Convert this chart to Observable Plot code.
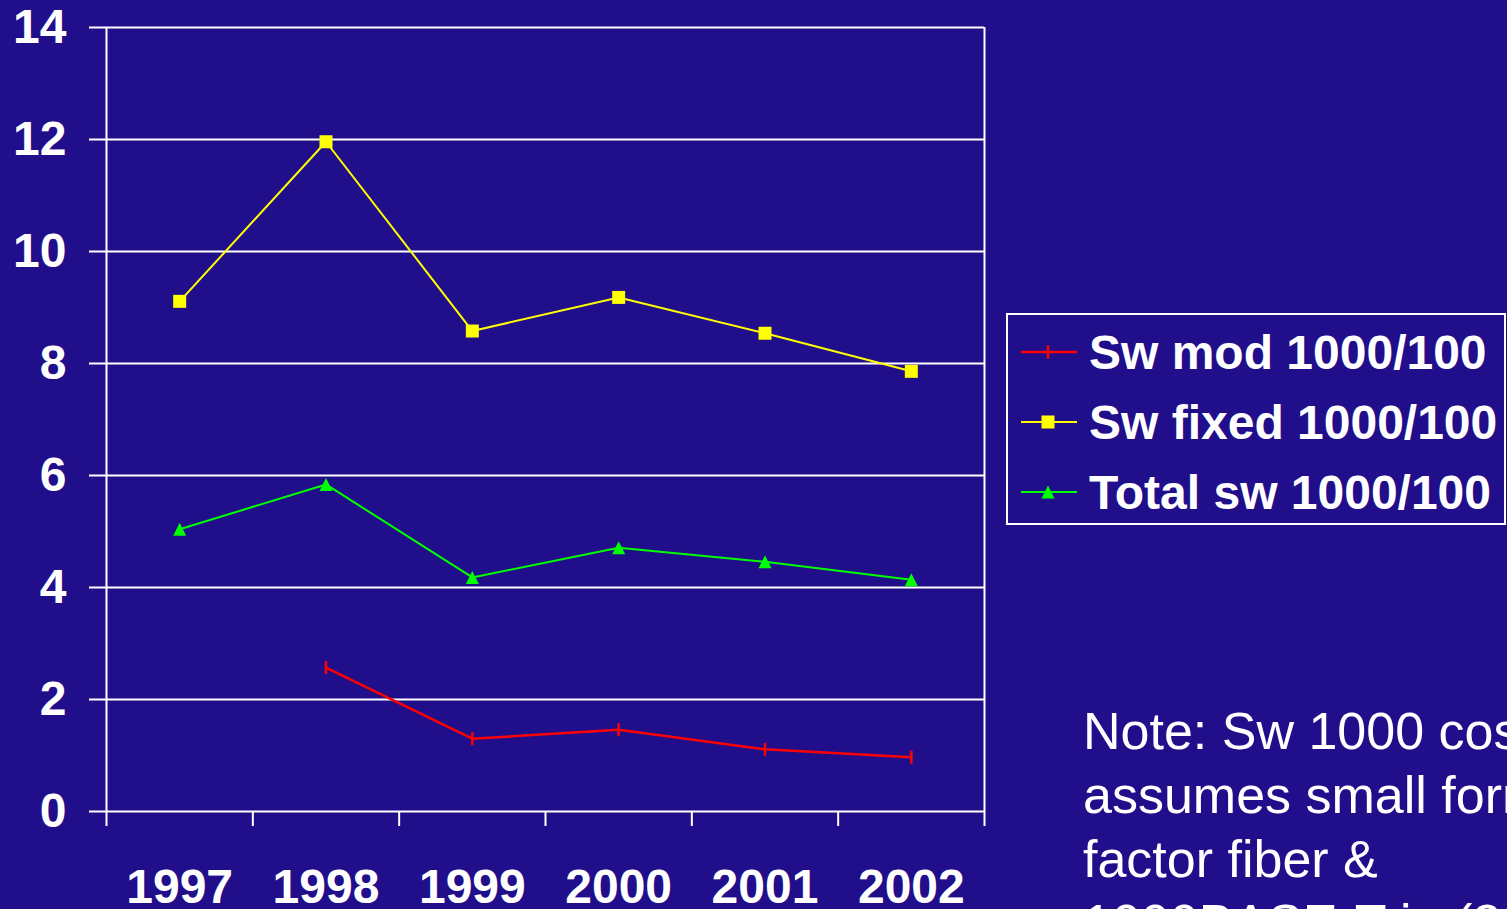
<!DOCTYPE html>
<html>
<head>
<meta charset="utf-8">
<script src="https://cdn.jsdelivr.net/npm/d3@7"></script>
<script src="https://cdn.jsdelivr.net/npm/@observablehq/plot@0.6"></script>
<style>
  html, body { margin: 0; padding: 0; background: #210e8b; overflow: hidden; width: 1507px; height: 909px; }
  #wrap { position: relative; width: 1507px; height: 909px; }
  #overlay { position: absolute; left: 0; top: 0; pointer-events: none; }
</style>
</head>
<body>
<div id="wrap"><div id="chart"></div><svg id="overlay" width="1507" height="909"></svg></div>
<script>
const years = ["1997", "1998", "1999", "2000", "2001", "2002"];
const swMod = [null, 2.57, 1.30, 1.46, 1.11, 0.97];
const swFixed = [9.11, 11.96, 8.58, 9.18, 8.54, 7.86];
const totalSw = [5.04, 5.84, 4.18, 4.71, 4.46, 4.14];
const yTicks = [0, 2, 4, 6, 8, 10, 12, 14];
const seriesNames = ["Sw mod 1000/100", "Sw fixed 1000/100", "Total sw 1000/100"];
const seriesColors = ["#ff0000", "#ffff00", "#00ff00"];
const noteLines = ["Note: Sw 1000 cost", "assumes small form", "factor fiber &", "1000BASE-T in (2002)"];

const FONT = "'Liberation Sans', Arial, Helvetica, sans-serif";

function rows(values, name) {
  return years.map((y, i) => ({year: y, xi: i + 0.5, value: values[i], series: name}))
    .filter(d => d.value != null);
}
const modRows = rows(swMod, seriesNames[0]);
const fixedRows = rows(swFixed, seriesNames[1]);
const totalRows = rows(totalSw, seriesNames[2]);

const vtick = {
  draw(context, size) {
    const r = Math.sqrt(size / Math.PI);
    context.moveTo(0, -r);
    context.lineTo(0, r);
  }
};
const tri = {
  draw(context, size) {
    const r = Math.sqrt(size / Math.PI);
    context.moveTo(0, -r);
    context.lineTo(r, r);
    context.lineTo(-r, r);
    context.closePath();
  }
};
const sq = {
  draw(context, size) {
    const r = Math.sqrt(size / Math.PI);
    context.rect(-r, -r, 2 * r, 2 * r);
  }
};

const chart = Plot.plot({
  width: 1507,
  height: 909,
  marginLeft: 106,
  marginRight: 523,
  marginTop: 27,
  marginBottom: 98,
  style: {background: "transparent", color: "white", fontFamily: FONT, fontSize: "48px", fontWeight: "bold"},
  x: {domain: [0, 6], axis: null},
  y: {domain: [0, 14], axis: null},
  marks: [
    Plot.ruleY(yTicks, {x1: 0, x2: 6, stroke: "white", strokeWidth: 2}),
    Plot.ruleX([0, 6], {y1: 0, y2: 14, stroke: "white", strokeWidth: 2}),
    Plot.axisY({ticks: yTicks, tickSize: 17, tickPadding: 23, strokeWidth: 2, label: null,
      fontSize: 48, fontWeight: "bold", fill: "white"}),
    Plot.axisX({ticks: d3.range(7), tickSize: 15, tickFormat: () => "", strokeWidth: 2, label: null}),
    Plot.axisX({ticks: years.map((d, i) => i + 0.5), tickSize: 0, tickPadding: 57, label: null,
      tickFormat: v => years[Math.round(v - 0.5)], fontSize: 48, fontWeight: "bold", fill: "white"}),
    Plot.line(totalRows, {x: "xi", y: "value", stroke: seriesColors[2], strokeWidth: 2}),
    Plot.line(fixedRows, {x: "xi", y: "value", stroke: seriesColors[1], strokeWidth: 2}),
    Plot.line(modRows, {x: "xi", y: "value", stroke: seriesColors[0], strokeWidth: 2.5}),
    Plot.dot(totalRows, {x: "xi", y: "value", symbol: tri, r: 6.5, fill: seriesColors[2], stroke: "none"}),
    Plot.dot(fixedRows, {x: "xi", y: "value", symbol: sq, r: 6.5, fill: seriesColors[1], stroke: "none"}),
    Plot.dot(modRows, {x: "xi", y: "value", symbol: vtick, r: 6.5, fill: "none", stroke: seriesColors[0], strokeWidth: 2.5})
  ]
});
document.getElementById("chart").appendChild(chart);

// Legend + note overlay
const ov = d3.select("#overlay");
ov.append("rect").attr("x", 1007).attr("y", 314).attr("width", 498).attr("height", 210)
  .attr("fill", "none").attr("stroke", "white").attr("stroke-width", 2);
const rowY = [352, 422, 492];
const symbols = [vtick, sq, tri];
seriesNames.forEach((name, i) => {
  const cy = rowY[i];
  const g = ov.append("g");
  g.append("line").attr("x1", 1021).attr("x2", 1077).attr("y1", cy).attr("y2", cy)
    .attr("stroke", seriesColors[i]).attr("stroke-width", i === 0 ? 2.5 : 2);
  const p = g.append("path").attr("d", d3.symbol(symbols[i], Math.PI * 6.5 * 6.5)())
    .attr("transform", `translate(1048,${cy})`);
  if (i === 0) p.attr("fill", "none").attr("stroke", seriesColors[i]).attr("stroke-width", 2.5);
  else p.attr("fill", seriesColors[i]);
  g.append("text").attr("x", 1089).attr("y", cy + 17).text(name)
    .attr("fill", "white").attr("font-family", FONT).attr("font-weight", "bold").attr("font-size", 48);
});
noteLines.forEach((t, i) => {
  ov.append("text").attr("x", 1083).attr("y", 749 + 64 * i).text(t)
    .attr("fill", "white").attr("font-family", FONT).attr("font-size", 52);
});
</script>
</body>
</html>
